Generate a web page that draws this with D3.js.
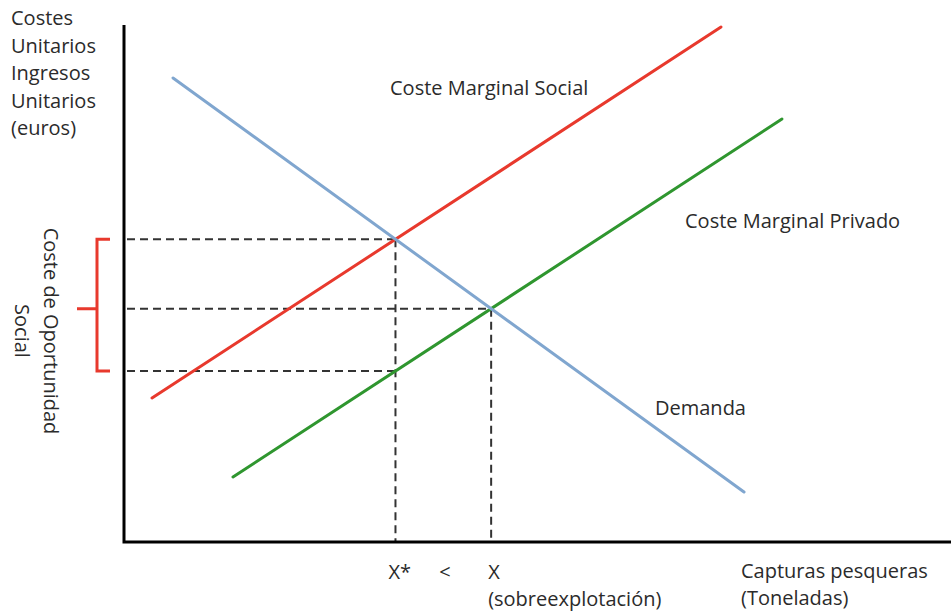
<!DOCTYPE html>
<html lang="es">
<head>
    <meta charset="UTF-8">
    <title>Sobreexplotación pesquera</title>
    <style>
        body { margin: 0; background: #fff; }
        svg { display: block; }
        .lbl { font-family: "Open Sans", sans-serif; font-size: 20px; fill: #2b2b2b; }
        .axis { stroke: #000; stroke-width: 3px; fill: none; }
        .guide { stroke: #333; stroke-width: 2px; stroke-dasharray: 8 5; fill: none; }
        .curve { stroke-width: 3px; fill: none; stroke-linecap: round; }
    </style>
    <script src="https://cdn.jsdelivr.net/npm/d3@7"></script>
</head>
<body>
<script>
    // curve end points in abstract units (0..100 on both axes)
    const socialCost  = [[3.39, 27.85], [72.19, 99.61]];
    const privateCost = [[13.18, 12.57], [79.56, 81.82]];
    const demand      = [[5.93, 89.75], [74.97, 9.67]];
    const curveNames  = ["Coste Marginal Social", "Coste Marginal Privado", "Demanda"];
    const curveColors = ["#e8392d", "#2f962f", "#80a6cf"];
    const yTitle = ["Costes", "Unitarios", "Ingresos", "Unitarios", "(euros)"];
    const xTitle = ["Capturas pesqueras", "(Toneladas)"];
    const bracketTitle = ["Coste de Oportunidad", "Social"];
    const quantityLabels = ["X*", "<", "X"];

    const width = 951, height = 612;
    const margin = {top: 25, right: 0, bottom: 70, left: 124};

    const svg = d3.select("body").append("svg")
        .attr("width", width).attr("height", height);

    const x = d3.scaleLinear().domain([0, 100]).range([margin.left, width - margin.right]);
    const y = d3.scaleLinear().domain([0, 100]).range([height - margin.bottom, margin.top]);

    const line = d3.line().x(d => x(d[0])).y(d => y(d[1]));

    // intersection of two straight segments
    function cross(a, b) {
        const m1 = (a[1][1] - a[0][1]) / (a[1][0] - a[0][0]);
        const m2 = (b[1][1] - b[0][1]) / (b[1][0] - b[0][0]);
        const c1 = a[0][1] - m1 * a[0][0];
        const c2 = b[0][1] - m2 * b[0][0];
        const xi = (c2 - c1) / (m1 - m2);
        return [xi, m1 * xi + c1];
    }
    function valueAt(seg, xv) {
        const m = (seg[1][1] - seg[0][1]) / (seg[1][0] - seg[0][0]);
        return seg[0][1] + m * (xv - seg[0][0]);
    }

    const optimum = cross(socialCost, demand);      // X*
    const market = cross(privateCost, demand);      // X
    const lowCost = [optimum[0], valueAt(privateCost, optimum[0])];

    /* ---------- dashed guides ---------- */
    const guides = svg.append("g");
    [optimum, market, lowCost].forEach(p => {
        guides.append("line").attr("class", "guide")
            .attr("x1", x(0) + 3).attr("x2", x(p[0]))
            .attr("y1", y(p[1])).attr("y2", y(p[1]));
    });
    [optimum, market].forEach(p => {
        guides.append("line").attr("class", "guide")
            .attr("x1", x(p[0])).attr("x2", x(p[0]))
            .attr("y1", y(p[1])).attr("y2", y(0));
    });

    /* ---------- curves ---------- */
    svg.append("g").selectAll("path")
        .data([socialCost, privateCost, demand])
        .join("path")
        .attr("class", "curve")
        .attr("stroke", (d, i) => curveColors[i])
        .attr("d", d => line(d));

    /* ---------- axes ---------- */
    svg.append("path").attr("class", "axis")
        .attr("d", `M${x(0)},${y(100)}V${y(0)}H${x(100)}`);

    /* ---------- curve labels ---------- */
    const curveLabelPos = [[390, 95], [685, 228], [655, 415]];
    svg.append("g").selectAll("text")
        .data(curveNames)
        .join("text")
        .attr("class", "lbl")
        .attr("x", (d, i) => curveLabelPos[i][0])
        .attr("y", (d, i) => curveLabelPos[i][1])
        .text(d => d);

    /* ---------- axis titles ---------- */
    svg.append("text").attr("class", "lbl")
        .selectAll("tspan").data(yTitle).join("tspan")
        .attr("x", 11).attr("y", (d, i) => 25 + i * 27.5)
        .text(d => d);

    svg.append("text").attr("class", "lbl")
        .selectAll("tspan").data(xTitle).join("tspan")
        .attr("x", 741).attr("y", (d, i) => 578 + i * 27)
        .text(d => d);

    // quantities under the x axis
    const qx = [x(optimum[0]) - 7, (x(optimum[0]) + x(market[0])) / 2 - 4, x(market[0]) - 3];
    svg.append("g").selectAll("text")
        .data(quantityLabels)
        .join("text")
        .attr("class", "lbl")
        .attr("x", (d, i) => qx[i]).attr("y", 579)
        .text(d => d);
    svg.append("text").attr("class", "lbl")
        .attr("x", qx[2]).attr("y", 606).text("(sobreexplotación)");

    /* ---------- opportunity cost bracket ---------- */
    const bTop = y(optimum[1]), bBot = y(lowCost[1]), bMid = y(market[1]);
    const bx = 97;
    svg.append("path")
        .attr("fill", "none").attr("stroke", "#e8392d").attr("stroke-width", 3)
        .attr("d", `M${bx + 13},${bTop}H${bx}V${bBot}H${bx + 13}M${bx},${bMid}H${bx - 20}`);

    svg.append("text").attr("class", "lbl")
        .attr("transform", `translate(44,331) rotate(90)`)
        .attr("text-anchor", "middle")
        .selectAll("tspan").data(bracketTitle).join("tspan")
        .attr("x", 0).attr("y", (d, i) => i * 29)
        .text(d => d);
</script>
</body>
</html>
